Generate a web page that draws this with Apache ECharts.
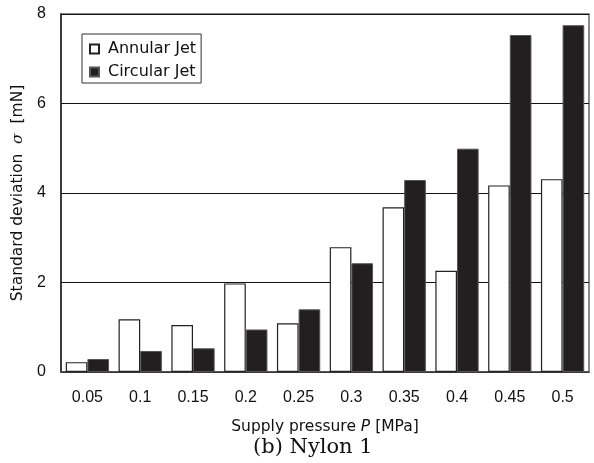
<!DOCTYPE html>
<html>
<head>
<meta charset="utf-8">
<script src="https://cdn.jsdelivr.net/npm/echarts@6/dist/echarts.min.js"></script>
<style>
  html, body { margin: 0; padding: 0; background: #fff; }
  #chart { width: 594px; height: 463px; }
</style>
</head>
<body>
<div id="chart"></div>
<script>
// Supply pressure P [MPa]
const pressures = ['0.05', '0.1', '0.15', '0.2', '0.25', '0.3', '0.35', '0.4', '0.45', '0.5'];
// Standard deviation σ [mN]
const annularJet = [0.22, 1.18, 1.05, 1.98, 1.09, 2.79, 3.68, 2.26, 4.17, 4.31];
const circularJet = [0.29, 0.47, 0.53, 0.95, 1.40, 2.43, 4.29, 4.99, 7.53, 7.75];
const yTicks = [0, 2, 4, 6, 8];

const sans = '"DejaVu Sans", Verdana, sans-serif';
const digits = '"Liberation Sans", Arial, sans-serif';
const chart = echarts.init(document.getElementById('chart'));

chart.setOption({
  animation: false,
  backgroundColor: '#fff',
  title: {
    text: '(b) Nylon 1',
    left: 248,
    top: 432,
    textStyle: { fontFamily: '"DejaVu Serif", serif', fontSize: 21, fontWeight: 'normal', color: '#111' }
  },
  grid: {
    left: 61, top: 14, right: 5, bottom: 91,
    show: true, borderColor: '#666', borderWidth: 1.5, backgroundColor: 'transparent'
  },
  legend: {
    orient: 'vertical',
    left: 82, top: 34,
    padding: [7, 5, 3, 7],
    itemGap: 7,
    itemWidth: 9, itemHeight: 9,
    borderColor: '#333', borderWidth: 1,
    backgroundColor: '#fff',
    icon: 'rect',
    textStyle: { fontFamily: sans, fontSize: 16, color: '#111', padding: [0, 0, 0, 4] },
    data: ['Annular Jet', 'Circular Jet']
  },
  xAxis: {
    type: 'category',
    data: pressures,
    axisLine: { lineStyle: { color: '#444', width: 1.5 } },
    axisTick: { show: false },
    axisLabel: { fontFamily: digits, fontSize: 16, color: '#111', margin: 18 },
    name: 'Supply pressure {i|P} [MPa]',
    nameLocation: 'middle',
    nameGap: 47,
    nameTextStyle: {
      fontFamily: sans, fontSize: 15.5, color: '#111',
      rich: { i: { fontFamily: sans, fontSize: 15.5, fontStyle: 'italic', color: '#111' } }
    }
  },
  yAxis: {
    type: 'value',
    min: 0, max: 8, interval: 2,
    axisLine: { show: true, lineStyle: { color: '#222', width: 1.5 } },
    axisTick: { show: false },
    splitLine: { lineStyle: { color: '#111', width: 1.2 } },
    axisLabel: {
      fontFamily: digits, fontSize: 16, color: '#111', margin: 15,
      formatter: v => yTicks.includes(v) ? String(v) : ''
    },
    name: 'Standard deviation  {i|σ}  [mN]',
    nameLocation: 'middle',
    nameGap: 34,
    nameTextStyle: {
      fontFamily: sans, fontSize: 15.5, color: '#111',
      rich: { i: { fontFamily: '"DejaVu Serif", serif', fontSize: 15.5, fontStyle: 'italic', color: '#111' } }
    }
  },
  series: [
    {
      name: 'Annular Jet',
      type: 'bar',
      data: annularJet,
      barGap: '0%',
      barCategoryGap: '18%',
      itemStyle: { color: '#fff', borderColor: '#222', borderWidth: 1.2 }
    },
    {
      name: 'Circular Jet',
      type: 'bar',
      data: circularJet,
      itemStyle: { color: '#231f20', borderColor: '#555', borderWidth: 1 }
    }
  ]
});
</script>
</body>
</html>
